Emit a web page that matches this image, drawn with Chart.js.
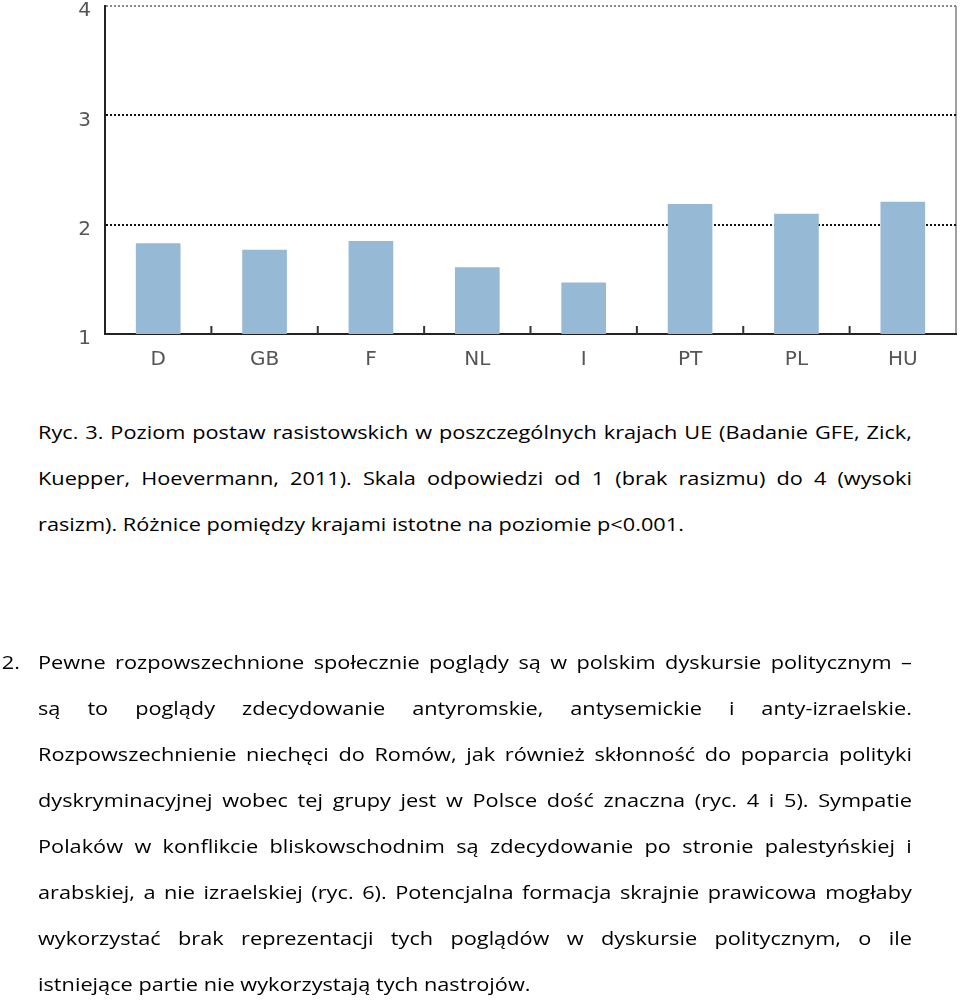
<!DOCTYPE html>
<html lang="pl">
<head>
    <meta charset="UTF-8">
    <title>Ryc. 3. Poziom postaw rasistowskich</title>
    <script src="https://cdn.jsdelivr.net/npm/chart.js"></script>
    <style>
        body {
            margin: 0;
            padding: 0;
            background: #fff;
            width: 960px;
            height: 1000px;
            overflow: hidden;
            position: relative;
            font-family: 'Open Sans', sans-serif;
            color: #000;
        }

        .chart-box {
            position: absolute;
            left: 0;
            top: -20px;
            width: 960px;
            height: 406px;
        }

        /* the source text is set wide, so the block is stretched sideways */
        .text-block {
            position: absolute;
            left: 38px;
            width: 724px;
            font-size: 18px;
            transform: scaleX(1.207);
            transform-origin: left top;
        }

        .text-block div {
            height: 46px;
            line-height: 46px;
            white-space: nowrap;
            text-align: justify;
            text-align-last: justify;
        }

        .text-block div.last {
            text-align-last: left;
        }

        .num {
            position: absolute;
            left: -30px;
            top: 0;
            line-height: 46px;
        }
    </style>
</head>
<body>
    <div class="chart-box"><canvas id="racismChart"></canvas></div>

    <div class="text-block" style="top: 409px;">
        <div>Ryc. 3. Poziom postaw rasistowskich w poszczególnych krajach UE (Badanie GFE, Zick,</div>
        <div>Kuepper, Hoevermann, 2011). Skala odpowiedzi od 1 (brak rasizmu) do 4 (wysoki</div>
        <div class="last">rasizm). Różnice pomiędzy krajami istotne na poziomie p&lt;0.001.</div>
    </div>

    <div class="text-block" style="top: 639px;">
        <span class="num">2.</span>
        <div>Pewne rozpowszechnione społecznie poglądy są w polskim dyskursie politycznym –</div>
        <div>są to poglądy zdecydowanie antyromskie, antysemickie i anty-izraelskie.</div>
        <div>Rozpowszechnienie niechęci do Romów, jak również skłonność do poparcia polityki</div>
        <div>dyskryminacyjnej wobec tej grupy jest w Polsce dość znaczna (ryc. 4 i 5). Sympatie</div>
        <div>Polaków w konflikcie bliskowschodnim są zdecydowanie po stronie palestyńskiej i</div>
        <div>arabskiej, a nie izraelskiej (ryc. 6). Potencjalna formacja skrajnie prawicowa mogłaby</div>
        <div>wykorzystać brak reprezentacji tych poglądów w dyskursie politycznym, o ile</div>
        <div class="last">istniejące partie nie wykorzystają tych nastrojów.</div>
    </div>

    <script>
        const countries = ['D', 'GB', 'F', 'NL', 'I', 'PT', 'PL', 'HU'];
        const racismLevel = [1.83, 1.77, 1.85, 1.61, 1.47, 2.19, 2.10, 2.21];
        const yMin = 1;
        const yMax = 4;

        // short upward tick marks between the categories
        const innerTicks = {
            id: 'innerTicks',
            afterDraw(chart) {
                const ctx = chart.ctx;
                const x = chart.scales.x;
                const bottom = chart.chartArea.bottom;
                ctx.save();
                ctx.strokeStyle = '#333';
                ctx.lineWidth = 2;
                for (let i = 0; i < countries.length - 1; i++) {
                    const px = (x.getPixelForValue(i) + x.getPixelForValue(i + 1)) / 2;
                    ctx.beginPath();
                    ctx.moveTo(px, bottom);
                    ctx.lineTo(px, bottom - 8);
                    ctx.stroke();
                }
                ctx.restore();
            }
        };

        const ctx = document.getElementById('racismChart').getContext('2d');
        new Chart(ctx, {
            type: 'bar',
            data: {
                labels: countries,
                datasets: [{
                    data: racismLevel,
                    backgroundColor: '#96b9d5',
                    borderWidth: 0,
                    categoryPercentage: 1,
                    barPercentage: 0.42
                }]
            },
            options: {
                responsive: true,
                maintainAspectRatio: false,
                animation: false,
                layout: { padding: { top: 7, right: 4, left: 0, bottom: 0 } },
                plugins: {
                    legend: { display: false },
                    tooltip: { enabled: false }
                },
                scales: {
                    x: {
                        grid: {
                            offset: true,
                            drawTicks: false,
                            lineWidth: 2,
                            color: c => c.type === 'tick' ? 'rgba(0,0,0,0)' : '#a0a0a0'
                        },
                        border: { color: '#222', width: 2 },
                        ticks: {
                            padding: 14,
                            color: '#555',
                            font: { family: 'DejaVu Sans', size: 20 }
                        }
                    },
                    y: {
                        min: yMin,
                        max: yMax,
                        afterFit: scale => { scale.width = 105; },
                        grid: {
                            drawTicks: false,
                            lineWidth: 2,
                            color: c => c.tick && c.tick.value === yMin ? 'rgba(0,0,0,0)' : (c.tick && c.tick.value === yMax ? '#888' : '#111')
                        },
                        border: { color: '#222', width: 2, dash: [2, 2] },
                        ticks: {
                            stepSize: 1,
                            padding: 14,
                            labelOffset: 5,
                            color: '#555',
                            font: { family: 'DejaVu Sans', size: 20 }
                        }
                    }
                }
            },
            plugins: [innerTicks]
        });
    </script>
</body>
</html>
